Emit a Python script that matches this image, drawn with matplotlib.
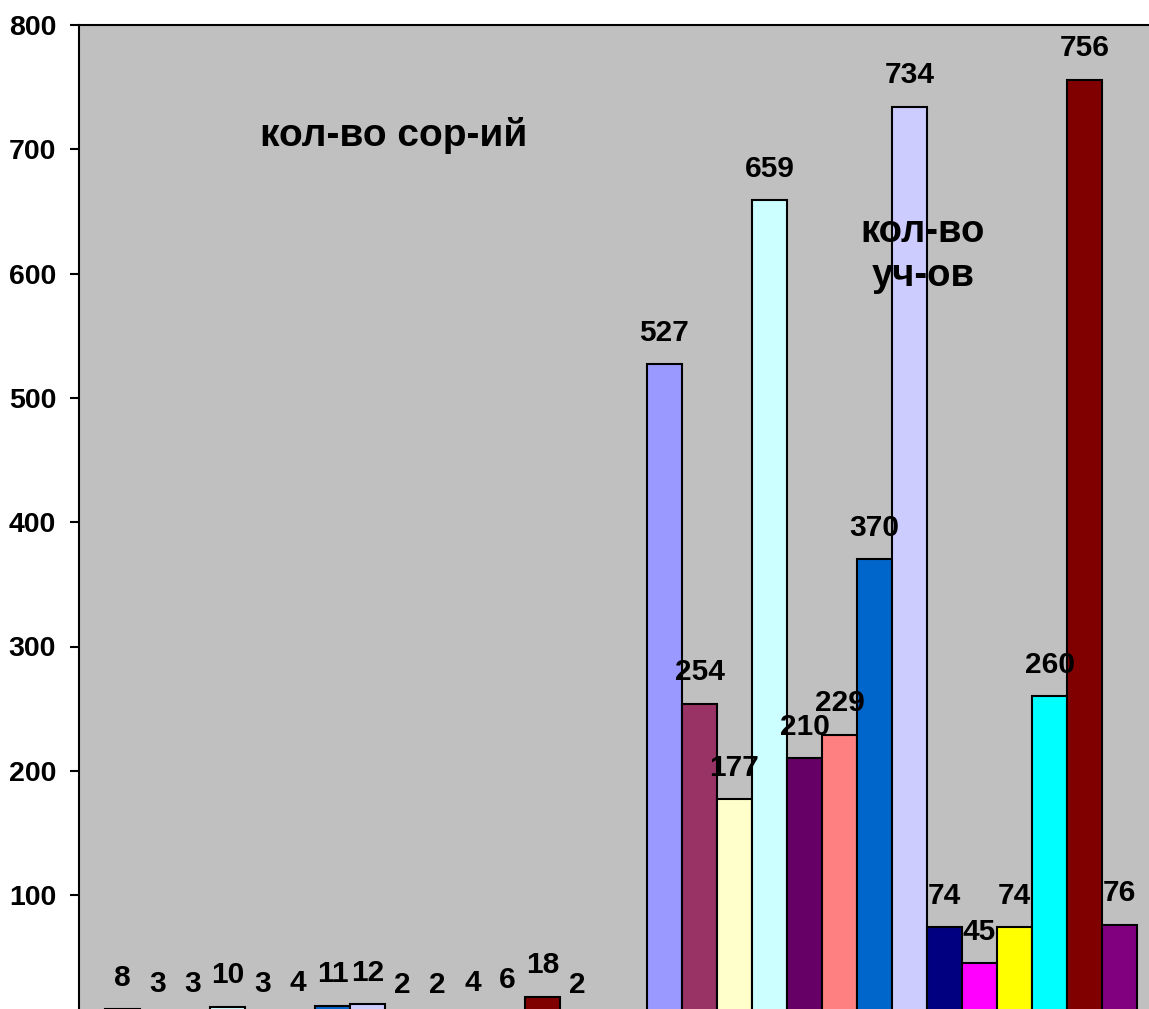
import numpy as np
import matplotlib.pyplot as plt

plt.rcParams['font.family'] = ['Liberation Sans', 'DejaVu Sans']
plt.rcParams['font.weight'] = 'bold'

# two groups of bars, one bar per series in each
groups = ['кол-во сор-ий', 'кол-во уч-ов']
sorts = [8, 3, 3, 10, 3, 4, 11, 12, 2, 2, 4, 6, 18, 2]
members = [527, 254, 177, 659, 210, 229, 370, 734, 74, 45, 74, 260, 756, 76]
colors = ['#9999FF', '#993366', '#FFFFCC', '#CCFFFF', '#660066', '#FF8080', '#0066CC',
          '#CCCCFF', '#000080', '#FF00FF', '#FFFF00', '#00FFFF', '#800000', '#800080']
yticks = [0, 100, 200, 300, 400, 500, 600, 700, 800]

W, H = 1149, 1009
fig = plt.figure(figsize=(W / 100, H / 100), dpi=100)
# plot area runs off the right and bottom edge, as in the cropped original
ax = fig.add_axes([79 / W, (H - 1019.4) / H, (1163 - 79) / W, 994.4 / H])
ax.set_facecolor('#C0C0C0')

n = len(sorts)
group_w = 490 / 542
bw = group_w / n
x = np.arange(len(groups))
for i in range(n):
    vals = [sorts[i], members[i]]
    xs = x - group_w / 2 + bw * (i + 0.5)
    ax.bar(xs, vals, width=bw, color=colors[i], edgecolor='black', linewidth=1.5, zorder=2)
    for xx, v in zip(xs, vals):
        ax.annotate(str(v), (xx, v), xytext=(0, 17), textcoords='offset points',
                    ha='center', va='baseline', fontsize=21.5, fontweight='bold', zorder=3)

ax.set_xlim(-0.5, 1.5)
ax.set_ylim(0, 800)
ax.set_yticks(yticks)
ax.set_yticklabels([str(t) for t in yticks], fontsize=20.5, fontweight='bold')
ax.set_xticks([])
ax.tick_params(axis='y', length=6.5, width=1.5, pad=10)
for s in ['left', 'top']:
    ax.spines[s].set_linewidth(1.5)
ax.spines['right'].set_visible(False)
ax.spines['bottom'].set_visible(False)

ax.text(394 / W, 1 - 135 / H, 'кол-во сор-ий', transform=fig.transFigure,
        ha='center', va='center', fontsize=28, fontweight='bold')
ax.text(923 / W, 1 - 254 / H, 'кол-во\nуч-ов', transform=fig.transFigure,
        ha='center', va='center', fontsize=27.5, fontweight='bold', linespacing=1.3, zorder=4)

plt.savefig('out.png', dpi=100)
